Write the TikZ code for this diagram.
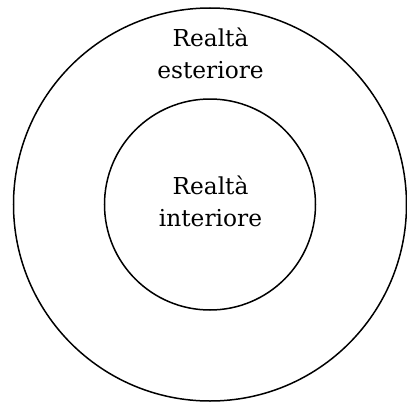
\documentclass[tikz,border=0pt]{standalone}
\usepackage{fontspec}
\setmainfont{DejaVu Serif}
\tikzset{etiquette/.style={align=center, font=\fontsize{23.3}{32}\selectfont, inner sep=0pt}}
\begin{document}
\begin{tikzpicture}[x=1pt, y=1pt, line width=1.5pt]
    \useasboundingbox (-210,-197.5) rectangle (197,204.5);
    %cercle exterieur
    \draw (0,0) circle (196.5);
    %cercle interieur
    \draw (0,0) circle (105.5);
    %textes
    \node[etiquette] (ext) at (0.5,151) {Realtà\\esteriore};
    \node[etiquette] (int) at (0.5,3.5) {Realtà\\interiore};
  \end{tikzpicture}
\end{document}
